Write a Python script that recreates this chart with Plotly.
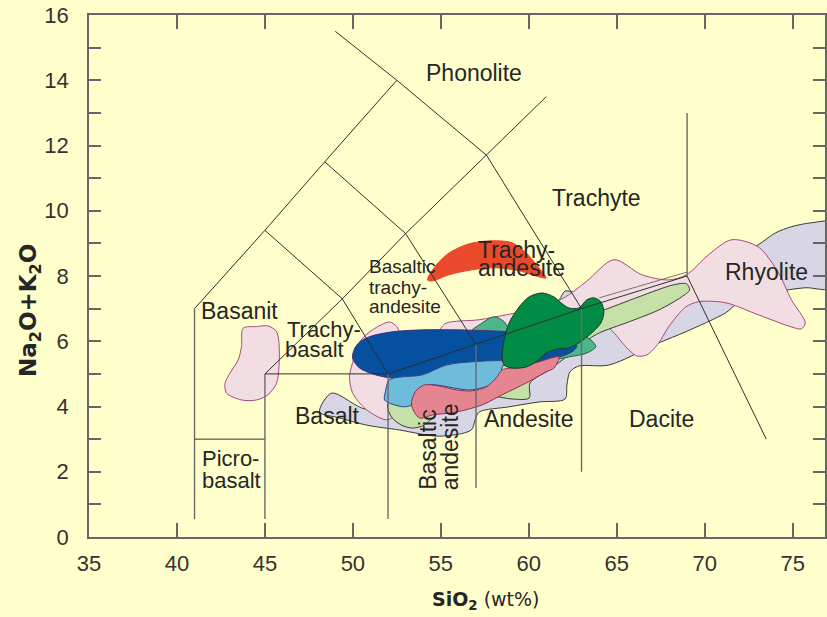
import plotly.graph_objects as go

# ---------------------------------------------------------------------------
# TAS (total alkali vs silica) classification boundaries, one polyline each
# ---------------------------------------------------------------------------
TAS_SIO2 = [
    [41, 41], [41, 45], [45, 45], [45, 52], [52, 52], [52, 57, 63, 69],
    [57, 57], [63, 63], [69, 69], [69, 73.5],
    [41, 45, 48.4, 52.5], [49, 52.5, 57.6, 63], [45, 49.4, 53, 57.6, 61],
    [45, 49.4, 52], [48.4, 53, 57],
]
TAS_ALK = [
    [0.55, 7], [3, 3], [0.55, 5], [5, 5], [0.55, 5], [5, 5.9, 7, 8],
    [1.5, 5.9], [2, 7], [8, 13], [8, 3],
    [7, 9.4, 11.5, 14], [15.5, 14, 11.7, 7], [5, 7.3, 9.3, 11.7, 13.5],
    [9.4, 7.3, 5], [11.5, 9.3, 5.9],
]

# ---------------------------------------------------------------------------
# Compositional fields of the volcanic suites (outline vertices)
# ---------------------------------------------------------------------------
GRAY_SIO2 = [48.11, 48.79, 50.78, 52.08, 54.35, 57.18, 60.02, 61.72, 62.06, 62.63,
             63.99, 66.82, 69.65, 71.92, 73.05, 74.02, 74.93, 76.06, 77.3, 77.3,
             75.72, 74.19, 71.92, 71.19, 68.92, 67.39, 64.55, 62.85, 62.34, 62.17,
             62.06, 60.58, 58.88, 57.18, 56.95, 56.73, 54.91, 52.65, 50.78, 49.25, 48.11]
GRAY_ALK = [3.83, 4.41, 3.92, 4.32, 5.06, 5.89, 6.72, 7.27, 7.54, 7.48,
            7.27, 7.57, 8.03, 8.65, 8.96, 9.32, 9.51, 9.63, 9.63, 7.64,
            7.64, 7.52, 7.18, 6.87, 6.29, 5.95, 5.27, 5.24, 5.06, 4.66,
            4.23, 4.14, 3.99, 3.83, 3.59, 3.28, 3.09, 3.28, 3.43, 3.65, 3.83]

PINK_SIO2 = [49.81, 49.98, 50.38, 51.12, 52.08, 52.5, 52.8, 54.5, 55.0, 55.31,
             57.18, 58.71, 60.58, 62.0, 63.25, 64.84, 66.42, 67.95, 68.97, 70.22,
             71.52, 73.05, 74.19, 74.93, 75.72, 75.49, 74.93, 73.05, 71.19, 69.65,
             68.92, 67.95, 67.39, 66.71, 66.14, 65.52, 64.55, 63.99, 62.28, 60.58,
             58.32, 56.61, 54.35, 52.65, 51.97, 50.78, 49.98, 49.81]
PINK_ALK = [4.91, 5.34, 5.98, 6.35, 6.59, 6.45, 6.1, 6.1, 6.4, 6.56,
            6.66, 6.81, 7.02, 7.33, 7.82, 8.5, 8.04, 7.88, 8.04, 8.65,
            9.11, 8.89, 8.1, 7.27, 6.56, 6.38, 6.44, 6.81, 7.18, 7.21,
            7.05, 6.44, 5.95, 5.58, 5.55, 5.83, 6.41, 6.5, 6.2, 5.58,
            4.88, 4.51, 4.2, 3.83, 3.59, 3.9, 4.42, 4.91]

BASANITE_SIO2 = [43.76, 44.52, 45.18, 45.66, 45.8, 45.8, 45.66, 45.18, 44.52, 43.67,
                 42.82, 42.73, 43.01, 43.48, 43.67, 43.76]
BASANITE_ALK = [6.4, 6.45, 6.47, 6.3, 5.94, 5.22, 4.71, 4.36, 4.2, 4.2,
                4.41, 4.71, 5.02, 5.43, 5.84, 6.4]

LGREEN_SIO2 = [51.97, 52.19, 52.76, 53.38, 54.06, 54.91, 56.33, 57.75, 59.05, 60.02,
               60.07, 61.15, 62.28, 63.59, 64.15, 65.52, 67.39, 68.69, 69.14, 68.97,
               68.23, 66.25, 63.98, 62.28, 60.02, 57.75, 55.48, 53.78, 52.36, 51.97]
LGREEN_ALK = [4.05, 3.68, 3.43, 3.34, 3.43, 3.83, 4.11, 4.32, 4.23, 4.26,
              4.72, 5.12, 5.58, 6.13, 6.29, 6.56, 6.96, 7.36, 7.57, 7.76,
              7.73, 7.36, 6.9, 6.6, 6.04, 5.43, 4.88, 4.51, 4.26, 4.05]

TEAL_SIO2 = [56.61, 57.35, 58.03, 58.6, 59.0, 60.58, 62.28, 63.02, 63.53, 63.81,
             63.3, 62.28, 60.58, 58.32, 56.73, 56.61]
TEAL_ALK = [6.23, 6.56, 6.75, 6.6, 6.29, 6.04, 6.1, 6.16, 6.04, 5.83,
            5.64, 5.52, 5.37, 5.37, 5.74, 6.23]

BLUE_SIO2 = [49.98, 50.15, 50.55, 51.12, 52.25, 53.95, 55.88, 57.75, 58.88, 60.58,
             62.28, 62.74, 62.45, 61.72, 60.58, 58.88, 56.78, 54.91, 53.04, 52.08,
             51.12, 50.38, 49.98]
BLUE_ALK = [5.49, 5.83, 6.04, 6.17, 6.29, 6.35, 6.35, 6.32, 6.29, 6.17,
            6.01, 5.86, 5.67, 5.52, 5.37, 5.27, 5.27, 5.09, 4.88, 4.88,
            5.0, 5.18, 5.49]

LBLUE_SIO2 = [52.08, 51.85, 51.8, 52.19, 52.93, 53.33, 53.67, 54.35, 56.78, 58.32,
              58.49, 58.71, 56.78, 55.31, 53.95, 52.08]
LBLUE_ALK = [4.82, 4.45, 4.2, 4.08, 3.99, 4.05, 4.45, 4.66, 4.51, 4.81,
             5.21, 5.37, 5.37, 5.27, 4.97, 4.82]

SALMON_SIO2 = [53.33, 53.55, 54.06, 54.91, 55.88, 56.78, 57.58, 58.15, 58.49, 59.45,
               60.58, 61.72, 61.43, 60.98, 59.85, 58.49, 57.35, 55.88, 54.52, 53.78,
               53.33]
SALMON_ALK = [4.05, 4.45, 4.66, 4.63, 4.51, 4.48, 4.6, 4.88, 5.12, 5.21,
              5.37, 5.52, 5.18, 5.06, 4.72, 4.36, 4.05, 3.83, 3.74, 3.65,
              4.05]

DGREEN_SIO2 = [58.49, 58.6, 58.88, 59.45, 60.02, 60.75, 61.43, 61.83, 62.28, 62.85,
               63.3, 63.7, 64.1, 64.27, 64.1, 63.59, 62.85, 62.28, 61.72, 60.98,
               60.58, 59.85, 59.05, 58.6, 58.49]
DGREEN_ALK = [5.52, 6.04, 6.56, 7.05, 7.36, 7.48, 7.36, 7.18, 7.02, 7.02,
              7.27, 7.33, 7.21, 6.9, 6.56, 6.26, 5.95, 5.8, 5.77, 5.64,
              5.43, 5.21, 5.18, 5.27, 5.52]

RED_SIO2 = [54.24, 54.74, 55.48, 56.44, 57.18, 58.15, 59.05, 59.85, 60.58, 60.98,
            60.41, 59.45, 58.15, 56.78, 55.48, 54.52, 54.24]
RED_ALK = [7.88, 8.34, 8.71, 8.96, 9.05, 9.08, 9.02, 8.71, 8.25, 7.94,
           8.0, 8.16, 8.25, 8.19, 8.04, 7.85, 7.88]

# thin trend line running along the top of the pale-green field
TREND_SIO2 = [64.0, 69.0]
TREND_ALK = [7.33, 8.12]

# rock-name labels, one entry per text line
LABELS = ["Phonolite", "Trachyte", "Trachy-", "andesite", "Basanit",
          "Andesite", "Dacite", "Rhyolite", "Basalt"]
LABEL_X = [56.88, 63.87, 59.33, 59.56, 43.58, 60.02, 67.53, 73.54, 48.54]
LABEL_Y = [14.21, 10.4, 8.8, 8.24, 6.92, 3.62, 3.62, 8.13, 3.71]

LEFT_LABELS = ["Basaltic", "trachy-", "andesite", "Trachy-", "basalt", "Picro-", "basalt"]
LEFT_X = [50.83, 50.83, 50.83, 46.13, 46.0, 41.31, 41.31]
LEFT_Y = [8.3, 7.66, 7.05, 6.35, 5.74, 2.42, 1.72]
LEFT_SIZE = [19, 19, 19, 22, 22, 22, 22]

VERT_LABELS = ["Basaltic", "andesite"]
VERT_X = [54.29, 55.57]
VERT_Y = [1.38, 1.38]

X_TICKS = [35, 40, 45, 50, 55, 60, 65, 70, 75]
Y_TICKS = list(range(0, 17))
Y_TICK_TEXT = [str(v) if v % 2 == 0 else "" for v in Y_TICKS]

BG = "#FFFFCC"
TXT = "#262626"
LABEL_FONT = "Liberation Sans, Arial, sans-serif"

fig = go.Figure()

fields = [
    (GRAY_SIO2, GRAY_ALK, "#D8D6E4", "#3A3A3A", 0.85),
    (PINK_SIO2, PINK_ALK, "#F2DEE2", "#A8487E", 0.85),
    (BASANITE_SIO2, BASANITE_ALK, "#F2DEE2", "#A8487E", 0.85),
    (LGREEN_SIO2, LGREEN_ALK, "#C6E1A8", "#3A3A3A", 0.85),
    (TEAL_SIO2, TEAL_ALK, "#4DB68A", "#2E5A40", 0.85),
    (BLUE_SIO2, BLUE_ALK, "#05509F", "#4A2F7A", 0.85),
    (LBLUE_SIO2, LBLUE_ALK, "#6DBCD9", "#33408A", 0.85),
    (SALMON_SIO2, SALMON_ALK, "#E5858F", "#8A2E5A", 0.85),
    (DGREEN_SIO2, DGREEN_ALK, "#008C45", "#1E3A22", 0.85),
    (RED_SIO2, RED_ALK, "#EA4A2B", "#EA4A2B", 0.85),
]
for xs, ys, fill, edge, smooth in fields:
    fig.add_trace(go.Scatter(
        x=xs, y=ys, mode="lines", fill="toself", fillcolor=fill,
        line=dict(color=edge, width=1, shape="spline", smoothing=smooth),
        hoverinfo="skip", showlegend=False,
    ))

fig.add_trace(go.Scatter(x=TREND_SIO2, y=TREND_ALK, mode="lines",
                         line=dict(color="#555555", width=0.8),
                         hoverinfo="skip", showlegend=False))

# classification grid drawn over the fields
for xs, ys in zip(TAS_SIO2, TAS_ALK):
    vertical = len(xs) == 2 and xs[0] == xs[1]
    fig.add_trace(go.Scatter(
        x=xs, y=ys, mode="lines",
        line=dict(color="#6A6A6A" if vertical else "#2E2E2E",
                  width=1.4 if vertical else 1),
        hoverinfo="skip", showlegend=False,
    ))

for t, x, y in zip(LABELS, LABEL_X, LABEL_Y):
    fig.add_annotation(x=x, y=y, text=t, showarrow=False,
                       xanchor="center", yanchor="middle",
                       font=dict(family=LABEL_FONT, size=23, color=TXT))
for t, x, y, s in zip(LEFT_LABELS, LEFT_X, LEFT_Y, LEFT_SIZE):
    fig.add_annotation(x=x, y=y, text=t, showarrow=False,
                       xanchor="left", yanchor="middle",
                       font=dict(family=LABEL_FONT, size=s, color=TXT))
for t, x, y in zip(VERT_LABELS, VERT_X, VERT_Y):
    fig.add_annotation(x=x, y=y, text=t, showarrow=False, textangle=-90,
                       xanchor="center", yanchor="bottom",
                       font=dict(family=LABEL_FONT, size=23, color=TXT))

# axis titles
fig.add_annotation(xref="paper", yref="paper", x=-0.08, y=0.433,
                   text="<b>Na<sub>2</sub>O+K<sub>2</sub>O</b>", textangle=-90,
                   showarrow=False, xanchor="center", yanchor="middle",
                   font=dict(family="DejaVu Sans, sans-serif", size=23, color=TXT))
fig.add_annotation(xref="paper", yref="paper", x=0.539, y=-0.121,
                   text="<b>SiO<sub>2</sub></b> (wt%)",
                   showarrow=False, xanchor="center", yanchor="middle",
                   font=dict(family="DejaVu Sans, sans-serif", size=19, color=TXT))

axis_common = dict(showgrid=False, zeroline=False, showline=True,
                   linecolor="#666666", linewidth=1.5, mirror="ticks",
                   ticks="inside", tickcolor="#666666", tickwidth=1.5,
                   tickfont=dict(family=LABEL_FONT, size=22, color="#333333"))

fig.update_xaxes(range=[35, 76.84], tickvals=X_TICKS, ticklen=14,
                 ticklabelstandoff=6, **axis_common)
fig.update_yaxes(range=[0, 16], tickvals=Y_TICKS, ticktext=Y_TICK_TEXT,
                 ticklen=12, ticklabelstandoff=14, **axis_common)

fig.update_layout(
    width=827, height=617,
    margin=dict(l=89, r=0, t=15, b=80),
    paper_bgcolor=BG, plot_bgcolor=BG,
    showlegend=False,
)

fig.write_html("out.html")
